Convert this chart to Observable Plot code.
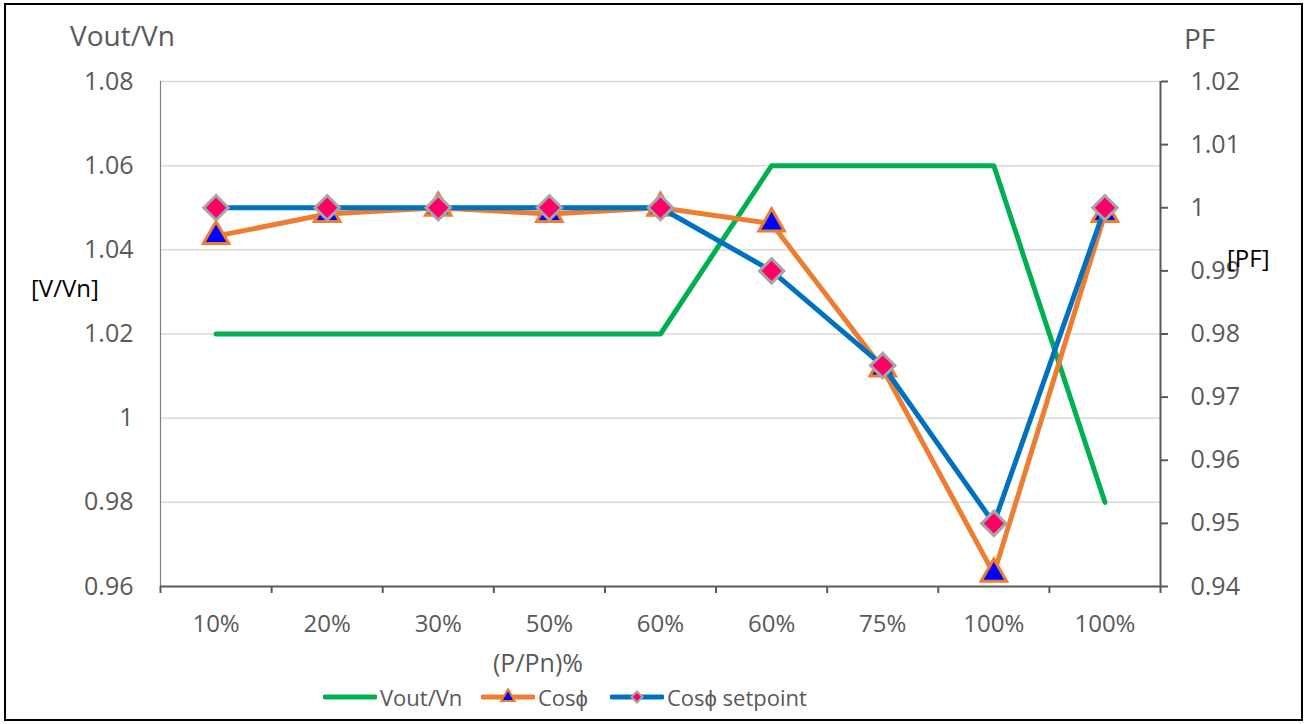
<!DOCTYPE html>
<html><head><meta charset="utf-8">
<script src="https://cdn.jsdelivr.net/npm/d3@7"></script>
<script src="https://cdn.jsdelivr.net/npm/@observablehq/plot@0.6"></script>
<style>
body{margin:0;background:#fff;font-family:"Open Sans",sans-serif;}
#wrap{position:relative;width:1308px;height:724px;overflow:hidden;background:#fff;}
#wrap > svg{position:absolute;left:0;top:0;}
.frame{position:absolute;left:4px;top:3px;width:1299px;height:718px;border:2px solid #000;box-sizing:border-box;pointer-events:none;}
.t{position:absolute;color:#595959;font-size:24px;white-space:nowrap;line-height:1;}
.k{position:absolute;color:#000;font-size:24px;white-space:nowrap;line-height:1;}
.leg{position:absolute;top:684px;height:26px;display:flex;align-items:center;color:#595959;font-size:22px;white-space:nowrap;}
.leg svg{display:block;margin-right:3px;}
</style></head><body><div id="wrap"></div>
<script>
const categories = ["10%","20%","30%","50%","60%","60%","75%","100%","100%"];
const voutVn = [1.02,1.02,1.02,1.02,1.02,1.06,1.06,1.06,0.98];
const cosPhi = [0.9955,0.999,1.0,0.999,1.0,0.9975,0.9745,0.942,0.999];
const cosPhiSetpoint = [1,1,1,1,1,0.99,0.975,0.95,1];
const leftTicks = [0.96,0.98,1,1.02,1.04,1.06,1.08];
const rightTicks = [0.94,0.95,0.96,0.97,0.98,0.99,1,1.01,1.02];

const C_GREEN = "#00b050", C_ORANGE = "#ed7d31", C_BLUE = "#0070c0";
const C_TRI = "#0000ff", C_DIA = "#ff0066", C_DIA_STROKE = "#a6a6a6";
const GRAY = "#595959";

// right axis (PF) mapped onto the left scale
const pfMin = 0.94, pfMax = 1.02, vMin = 0.96, vMax = 1.08;
const toLeft = pf => vMin + (pf - pfMin) * (vMax - vMin) / (pfMax - pfMin);
const fromLeft = v => pfMin + (v - vMin) * (pfMax - pfMin) / (vMax - vMin);
const fmt = d => String(+(+d).toFixed(2));

const idx = d3.range(categories.length);
const xc = i => i + 0.5;

const plot = Plot.plot({
  width: 1308, height: 724,
  marginLeft: 160, marginRight: 148, marginTop: 81, marginBottom: 138,
  style: {fontFamily: "'Open Sans', sans-serif", background: "transparent"},
  x: {domain: [0, categories.length], axis: null},
  y: {domain: [vMin, vMax], axis: null},
  marks: [
    Plot.ruleY(leftTicks.filter(d => d > vMin), {stroke: "#d9d9d9", strokeWidth: 1.5}),
    // left axis
    Plot.axisY(leftTicks, {anchor: "left", tickSize: 0, tickPadding: 27, tickFormat: fmt, fontSize: 25, fill: GRAY}),
    Plot.ruleX([0], {y1: vMin, y2: vMax, stroke: "#7f7f7f", strokeWidth: 1.2}),
    // right axis
    Plot.axisY(rightTicks.map(toLeft), {anchor: "right", tickSize: 7, tickPadding: 23, tickFormat: d => fmt(fromLeft(d)), fontSize: 25, fill: GRAY, stroke: GRAY, strokeWidth: 2}),
    Plot.ruleX([categories.length], {y1: vMin, y2: vMax, stroke: GRAY, strokeWidth: 2}),
    // bottom axis
    Plot.axisX(d3.range(categories.length + 1), {anchor: "bottom", tickSize: 7, tickFormat: () => "", stroke: GRAY, strokeWidth: 2}),
    Plot.axisX(idx.map(xc), {anchor: "bottom", tickSize: 0, tickPadding: 28, tickFormat: d => categories[Math.round(d - 0.5)], fontSize: 24, fill: GRAY}),
    Plot.ruleY([vMin], {stroke: GRAY, strokeWidth: 2}),
    // series
    Plot.line(idx, {x: xc, y: i => voutVn[i], stroke: C_GREEN, strokeWidth: 5}),
    Plot.line(idx, {x: xc, y: i => toLeft(cosPhi[i]), stroke: C_ORANGE, strokeWidth: 5}),
    Plot.dot(idx, {x: xc, y: i => toLeft(cosPhi[i]), symbol: "triangle", r: 9.5, fill: C_TRI, stroke: C_ORANGE, strokeWidth: 3}),
    Plot.line(idx, {x: xc, y: i => toLeft(cosPhiSetpoint[i]), stroke: C_BLUE, strokeWidth: 5}),
    Plot.dot(idx, {x: xc, y: i => toLeft(cosPhiSetpoint[i]), symbol: "diamond2", r: 11, fill: C_DIA, stroke: C_DIA_STROKE, strokeWidth: 3})
  ]
});

const wrap = document.getElementById("wrap");
wrap.appendChild(plot);

function addText(cls, txt, left, top) {
  const d = document.createElement("div");
  d.className = cls; d.textContent = txt;
  d.style.left = left + "px"; d.style.top = top + "px";
  wrap.appendChild(d);
  return d;
}
addText("t", "Vout/Vn", 70, 21).style.fontSize = "28px";
addText("t", "PF", 1184, 24).style.fontSize = "28px";
addText("k", "[V/Vn]", 31, 276);
addText("k", "[PF]", 1227, 246);
const xt = addText("t", "(P/Pn)%", 538, 650);
xt.style.transform = "translateX(-50%)"; xt.style.fontSize = "25px";

function legendItem(left, color, symbol, fill, stroke, r, sw, label) {
  const item = document.createElement("div");
  item.className = "leg"; item.style.left = left + "px";
  const ns = "http://www.w3.org/2000/svg";
  const s = document.createElementNS(ns, "svg");
  s.setAttribute("width", 54); s.setAttribute("height", 26);
  const ln = document.createElementNS(ns, "line");
  ln.setAttribute("x1", 2); ln.setAttribute("x2", 52); ln.setAttribute("y1", 13); ln.setAttribute("y2", 13);
  ln.setAttribute("stroke", color); ln.setAttribute("stroke-width", 5); ln.setAttribute("stroke-linecap", "round");
  s.appendChild(ln);
  if (symbol) {
    const p = document.createElementNS(ns, "path");
    p.setAttribute("d", d3.symbol(symbol, r * r * Math.PI)());
    p.setAttribute("transform", "translate(27,13)");
    p.setAttribute("fill", fill); p.setAttribute("stroke", stroke); p.setAttribute("stroke-width", sw);
    s.appendChild(p);
  }
  item.appendChild(s);
  const sp = document.createElement("span"); sp.textContent = label;
  item.appendChild(sp);
  wrap.appendChild(item);
}
legendItem(323, C_GREEN, null, null, null, 0, 0, "Vout/Vn");
legendItem(481, C_ORANGE, d3.symbolTriangle, C_TRI, C_ORANGE, 5, 2, "Cosϕ");
legendItem(610, C_BLUE, d3.symbolDiamond2, C_DIA, C_DIA_STROKE, 5, 2, "Cosϕ setpoint");

const fr = document.createElement("div"); fr.className = "frame"; wrap.appendChild(fr);
</script></body></html>
